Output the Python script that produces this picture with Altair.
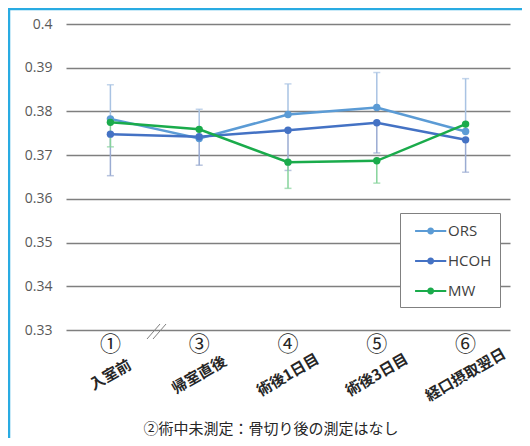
import altair as alt
import pandas as pd

circled = ["①", "③", "④", "⑤", "⑥"]
names = ["入室前", "帰室直後", "術後1日目", "術後3日目", "経口摂取翌日"]
series = ["ORS", "HCOH", "MW"]
ors = [0.3783, 0.3738, 0.3793, 0.3809, 0.3754]
hcoh = [0.3748, 0.3742, 0.3757, 0.3774, 0.3735]
mw = [0.3775, 0.3759, 0.3684, 0.3687, 0.3771]
ors_err_hi = [0.3861, 0.3805, 0.3863, 0.3889, 0.3875]
hcoh_err_lo = [0.3653, 0.3677, 0.3665, 0.3705, 0.3661]
mw_err_lo = [0.3719, None, 0.3624, 0.3636, None]
y_ticks = [0.33, 0.34, 0.35, 0.36, 0.37, 0.38, 0.39, 0.4]
footnote = "②術中未測定：骨切り後の測定はなし"

colors = ["#5b9bd5", "#4472c4", "#1aab4b"]
err_cols = {"ORS": "#a9c3e3", "HCOH": "#9aabd2", "MW": "#86d39b"}
W, H = 444, 306

rows = []
for s, vals in zip(series, [ors, hcoh, mw]):
    for c, v in zip(names, vals):
        rows.append({"cat": c, "series": s, "value": v})
df = pd.DataFrame(rows)

err_rows = []
for i, c in enumerate(names):
    err_rows.append({"cat": c, "lo": ors[i], "hi": ors_err_hi[i], "kind": "ORS"})
    err_rows.append({"cat": c, "lo": hcoh_err_lo[i], "hi": hcoh[i], "kind": "HCOH"})
    if mw_err_lo[i] is not None:
        err_rows.append({"cat": c, "lo": mw_err_lo[i], "hi": mw[i], "kind": "MW"})
edf = pd.DataFrame(err_rows)

lab = pd.DataFrame({"cat": names, "num": circled})

xs = alt.X("cat:N", sort=names, axis=None, scale=alt.Scale(domain=names, paddingInner=0, paddingOuter=0))
yscale = alt.Scale(domain=[0.33, 0.4], nice=False, zero=False)
ys = alt.Y("value:Q", scale=yscale,
           axis=alt.Axis(values=y_ticks, format=".2~f", title=None, domain=False, ticks=False,
                         labelFontSize=14, labelColor="#595959", labelFont="Open Sans",
                         labelPadding=14, gridColor="#7f7f7f", gridWidth=1.5))

base = alt.Chart(df)

grid = alt.Chart(pd.DataFrame({"value": y_ticks})).mark_rule(opacity=0).encode(y=ys)

err_layers = []
for k in series:
    sub = edf[edf.kind == k]
    err_layers.append(alt.Chart(sub).mark_rule(strokeWidth=1.5, color=err_cols[k]).encode(
        x=xs, y=alt.Y("lo:Q", scale=yscale), y2="hi:Q"))
    capf = "hi:Q" if k == "ORS" else "lo:Q"
    err_layers.append(alt.Chart(sub).mark_tick(thickness=1.5, size=7, orient="horizontal",
                                               color=err_cols[k]).encode(
        x=xs, y=alt.Y(capf, scale=yscale)))

sym = "M-0.3,-0.1L2.9,-0.1L2.9,0.1L-0.3,0.1Z M1.66,0A0.36,0.36 0 1,1 0.94,0A0.36,0.36 0 1,1 1.66,0Z"
leg = alt.Legend(orient="none", legendX=334, legendY=189, title=None,
                 symbolType=sym, symbolSize=380, symbolStrokeWidth=0,
                 labelFontSize=15, labelColor="#404040", labelFont="Open Sans",
                 fillColor="white", strokeColor="#808080", padding=8,
                 rowPadding=12, labelOffset=20)
cscale = alt.Scale(domain=series, range=colors)

lines = base.mark_line(strokeWidth=2.5).encode(
    x=xs, y=alt.Y("value:Q", scale=yscale),
    color=alt.Color("series:N", scale=cscale, sort=series, legend=leg))

points = base.mark_circle(size=55, opacity=1).encode(
    x=xs, y=alt.Y("value:Q", scale=yscale),
    color=alt.Color("series:N", scale=cscale, sort=series, legend=leg))

nums = alt.Chart(lab).mark_text(fontSize=21, font="Noto Sans CJK JP", color="#262626", baseline="middle").encode(
    x=xs, text="num:N", y=alt.value(H + 15))
jp = alt.Chart(lab).mark_text(fontSize=15, font="Noto Sans CJK JP", fontWeight="bold", color="#262626", angle=330,
                              baseline="middle", align="center").encode(
    x=xs, text="cat:N", y=alt.value(H + 45))

brk = alt.Chart(pd.DataFrame({"k": [0]})).mark_rule(color="#808080", strokeWidth=1).encode(
    x=alt.value(81), x2=alt.value(94), y=alt.value(H + 9), y2=alt.value(H - 6))
brk2 = alt.Chart(pd.DataFrame({"k": [0]})).mark_rule(color="#808080", strokeWidth=1).encode(
    x=alt.value(87), x2=alt.value(100), y=alt.value(H + 9), y2=alt.value(H - 6))

foot = alt.Chart(pd.DataFrame({"t": [footnote]})).mark_text(
    fontSize=15, font="Noto Sans CJK JP", color="#262626", baseline="middle", align="center").encode(
    text="t:N", x=alt.value(205), y=alt.value(H + 99))

frame = alt.Chart(pd.DataFrame({"k": [0]})).mark_rect(fillOpacity=0, stroke="#29abe2", strokeWidth=2.5).encode(
    x=alt.value(-57), x2=alt.value(W + 100), y=alt.value(-15), y2=alt.value(H + 200))

chart = alt.layer(grid, *err_layers, lines, points, nums, jp, brk, brk2, foot, frame).properties(
    width=W, height=H,
    autosize=alt.AutoSizeParams(type="none"),
    padding={"left": 58, "top": 16, "right": 12, "bottom": 108},
).configure_view(stroke=None)

chart.save("out.html", embed_options={"renderer": "svg", "actions": False})
